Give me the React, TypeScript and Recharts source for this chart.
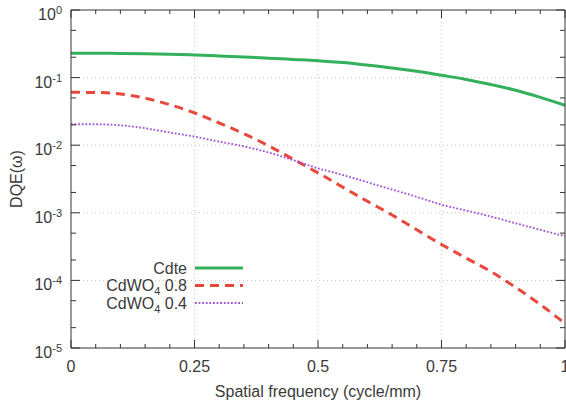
import React from 'react';
import { LineChart, Line, XAxis, YAxis, CartesianGrid, Legend } from 'recharts';

// spatial frequency (cycle/mm)
const freq = [0, 0.05, 0.1, 0.15, 0.2, 0.25, 0.3, 0.35, 0.4, 0.45, 0.5, 0.55, 0.6, 0.65, 0.7, 0.75, 0.8, 0.85, 0.9, 0.95, 1.0];

const cdte = [0.229, 0.229, 0.228, 0.226, 0.222, 0.216, 0.209, 0.202, 0.194, 0.186, 0.178, 0.167, 0.153, 0.139, 0.124, 0.108, 0.094, 0.079, 0.065, 0.051, 0.039];
const cdwo4_08 = [0.0605, 0.0603, 0.0572, 0.0496, 0.0397, 0.030, 0.0213, 0.0148, 0.0098, 0.0062, 0.0039, 0.0024, 0.00148, 0.00093, 0.00056, 0.00034, 0.000214, 0.000135, 0.000079, 0.000044, 0.000023];
const cdwo4_04 = [0.0204, 0.0204, 0.0197, 0.0178, 0.0154, 0.0134, 0.0113, 0.0096, 0.0078, 0.0060, 0.00455, 0.00363, 0.00283, 0.0022, 0.00172, 0.00132, 0.00108, 0.00088, 0.0007, 0.00056, 0.00045];

const xMajor = [0, 0.25, 0.5, 0.75, 1];
const xTicks = [0, 0.05, 0.1, 0.15, 0.2, 0.25, 0.3, 0.35, 0.4, 0.45, 0.5, 0.55, 0.6, 0.65, 0.7, 0.75, 0.8, 0.85, 0.9, 0.95, 1];
const yExponents = [-5, -4, -3, -2, -1, 0];
const yMinorMult = [2, 5];

const FONT = '"Liberation Sans", Arial, sans-serif';
const TEXT = '#3a3a3a';
const AXIS = '#333';

const series = [
  { key: 'cdte', name: 'Cdte', sub: '', tail: '', color: '#32b05a', width: 3, dash: undefined as string | undefined },
  { key: 'w08', name: 'CdWO', sub: '4', tail: ' 0.8', color: '#e8483c', width: 3, dash: '9 6' },
  { key: 'w04', name: 'CdWO', sub: '4', tail: ' 0.4', color: '#a052d2', width: 1.8, dash: '1.8 1.8' },
];

const data = freq.map((f, i) => ({ f, cdte: cdte[i], w08: cdwo4_08[i], w04: cdwo4_04[i] }));

const yTicks: number[] = [];
yExponents.forEach((e) => {
  yTicks.push(Math.pow(10, e));
  if (e < 0) yMinorMult.forEach((m) => yTicks.push(m * Math.pow(10, e)));
});

const isMajorY = (v: number) => Math.abs(Math.log10(v) - Math.round(Math.log10(v))) < 1e-6;
const isMajorX = (v: number) => xMajor.some((m) => Math.abs(m - v) < 1e-6);

const BottomTick = (props: any) => {
  const { x, y, payload } = props;
  const major = isMajorX(payload.value);
  return (
    <g>
      <line x1={x} x2={x} y1={y} y2={y - (major ? 8 : 4)} stroke={AXIS} />
      {major && (
        <text x={x} y={y + 24} textAnchor="middle" fill={TEXT} fontSize={16} fontFamily={FONT}>
          {String(payload.value)}
        </text>
      )}
    </g>
  );
};

const TopTick = (props: any) => {
  const { x, y, payload } = props;
  const major = isMajorX(payload.value);
  return <line x1={x} x2={x} y1={y} y2={y + (major ? 8 : 4)} stroke={AXIS} />;
};

const LeftTick = (props: any) => {
  const { x, y, payload } = props;
  const major = isMajorY(payload.value);
  const exp = Math.round(Math.log10(payload.value));
  return (
    <g>
      <line x1={x} x2={x + (major ? 9 : 5)} y1={y} y2={y} stroke={AXIS} />
      {major && (
        <text x={x - 9} y={y + 10} textAnchor="end" fill={TEXT} fontSize={16} fontFamily={FONT}>
          10
          <tspan fontSize={11} dy={-6}>{String(exp)}</tspan>
        </text>
      )}
    </g>
  );
};

const RightTick = (props: any) => {
  const { x, y, payload } = props;
  const major = isMajorY(payload.value);
  return <line x1={x} x2={x - (major ? 9 : 5)} y1={y} y2={y} stroke={AXIS} />;
};

const KeyBox = () => (
  <svg width={566} height={405} style={{ position: 'absolute', left: 0, top: 0 }}>
    {series.map((s, i) => {
      const cy = 268 + i * 17.5;
      return (
        <g key={s.key}>
          <text x={187} y={cy + 5.5} textAnchor="end" fill={TEXT} fontSize={16} fontFamily={FONT}>
            {s.name}
            {s.sub && <tspan fontSize={11} dy={4}>{s.sub}</tspan>}
            {s.tail && <tspan dy={-4}>{s.tail}</tspan>}
          </text>
          <line x1={195} x2={243} y1={cy} y2={cy} stroke={s.color} strokeWidth={s.width} strokeDasharray={s.dash} />
        </g>
      );
    })}
  </svg>
);

export default function App() {
  return (
    <div style={{ position: 'absolute', left: 0, top: 0, width: 566, height: 405, background: '#fff' }}>
      <LineChart width={566} height={405} data={data} margin={{ top: 0, right: 0, bottom: 0, left: 0 }}>
        <CartesianGrid
          xAxisId="b"
          yAxisId="l"
          stroke="#c4c4c4"
          strokeDasharray="1 3"
          horizontalValues={[1e-1, 1e-2, 1e-3, 1e-4]}
          verticalValues={[0.25, 0.5, 0.75]}
        />
        <XAxis
          xAxisId="b"
          dataKey="f"
          type="number"
          domain={[0, 1]}
          ticks={xTicks}
          interval={0}
          height={57}
          tickSize={0}
          tickMargin={0}
          tickLine={false}
          axisLine={{ stroke: AXIS }}
          tick={<BottomTick />}
          label={{
            content: (p: any) => {
              const vb = p.viewBox;
              return (
                <text x={vb.x + vb.width / 2} y={397} textAnchor="middle" fill={TEXT} fontSize={16} fontFamily={FONT}>
                  Spatial frequency (cycle/mm)
                </text>
              );
            },
          }}
        />
        <XAxis
          xAxisId="t"
          orientation="top"
          dataKey="f"
          type="number"
          domain={[0, 1]}
          ticks={xTicks}
          interval={0}
          height={10}
          tickSize={0}
          tickMargin={0}
          tickLine={false}
          axisLine={{ stroke: AXIS }}
          tick={<TopTick />}
        />
        <YAxis
          yAxisId="l"
          scale="log"
          domain={[1e-5, 1]}
          allowDataOverflow
          ticks={yTicks}
          interval={0}
          width={71}
          tickSize={0}
          tickMargin={0}
          tickLine={false}
          axisLine={{ stroke: AXIS }}
          tick={<LeftTick />}
          label={{
            content: (p: any) => {
              const vb = p.viewBox;
              const cy = vb.y + vb.height / 2;
              return (
                <text x={21.5} y={cy} transform={`rotate(-90, 21.5, ${cy})`} textAnchor="middle" fill={TEXT} fontSize={16} fontFamily={FONT}>
                  DQE(ω)
                </text>
              );
            },
          }}
        />
        <YAxis
          yAxisId="r"
          orientation="right"
          scale="log"
          domain={[1e-5, 1]}
          allowDataOverflow
          ticks={yTicks}
          interval={0}
          width={1}
          tickSize={0}
          tickMargin={0}
          tickLine={false}
          axisLine={{ stroke: AXIS }}
          tick={<RightTick />}
        />
        {series.map((s) => (
          <Line
            key={s.key}
            xAxisId="b"
            yAxisId="l"
            type="monotone"
            dataKey={s.key}
            name={s.name + s.sub + s.tail}
            stroke={s.color}
            strokeWidth={s.width}
            strokeDasharray={s.dash}
            dot={false}
            activeDot={false}
            isAnimationActive={false}
          />
        ))}
        <Legend
          layout="vertical"
          align="center"
          verticalAlign="middle"
          wrapperStyle={{ position: 'absolute', left: 0, top: 0, width: 566, height: 405, pointerEvents: 'none' }}
          content={() => <KeyBox />}
        />
      </LineChart>
    </div>
  );
}
